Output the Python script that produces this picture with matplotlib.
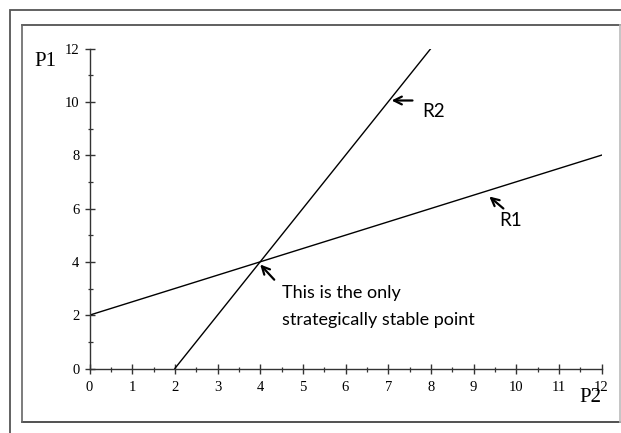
import matplotlib.pyplot as plt
from matplotlib.lines import Line2D
from matplotlib.patches import Rectangle
from matplotlib.ticker import MultipleLocator
import numpy as np

# reaction curves: P1 as a function of P2
r1_p2 = [0, 12]
r1_p1 = [2, 8]
r2_p2 = [2, 8]
r2_p1 = [0, 12]

x_ticks = np.arange(0, 13, 1)
y_ticks = np.arange(0, 13, 2)

fig = plt.figure(figsize=(6.21, 4.33), dpi=100)
W, H = 621, 433

# double frame around the figure
fig.patches.append(Rectangle((10 / W, -0.05), 1.1, 1 - 10 / H + 0.05,
                             transform=fig.transFigure, fill=False,
                             edgecolor='#555555', linewidth=1.3))


def frame_line(x0, y0, x1, y1, color):
    fig.lines.append(Line2D([x0 / W, x1 / W], [1 - y0 / H, 1 - y1 / H],
                            transform=fig.transFigure, color=color,
                            linewidth=1.2))


frame_line(22, 25, 620, 25, '#444444')
frame_line(22, 422, 620, 422, '#333333')
frame_line(22, 25, 22, 422, '#666666')
frame_line(620, 25, 620, 422, '#bbbbbb')

ax = fig.add_axes([89.5 / W, 1 - 368.5 / H, 512 / W, 320 / H])
ax.plot(r1_p2, r1_p1, color='black', linewidth=1.0)
ax.plot(r2_p2, r2_p1, color='black', linewidth=1.0)

ax.set_xlim(0, 12)
ax.set_ylim(0, 12)
ax.set_xticks(x_ticks)
ax.set_yticks(y_ticks)
ax.xaxis.set_minor_locator(MultipleLocator(0.5))
ax.yaxis.set_minor_locator(MultipleLocator(1))
for side in ['top', 'right']:
    ax.spines[side].set_visible(False)
for side in ['left', 'bottom']:
    ax.spines[side].set_color('#333333')
    ax.spines[side].set_linewidth(1.0)
ax.tick_params(which='major', direction='inout', length=6.5, width=1.0,
               color='#333333', labelsize=10.5, pad=4)
ax.tick_params(axis='x', which='major', pad=6)
ax.tick_params(which='minor', direction='inout', length=3.6, width=0.9,
               color='#333333')
for lab in ax.get_xticklabels() + ax.get_yticklabels():
    lab.set_family('Liberation Serif')
ax.patch.set_visible(False)

serif = 'Liberation Serif'
fig.text(45 / W, 1 - 61 / H, 'P1', family=serif, fontsize=15,
         ha='center', va='center')
fig.text(590 / W, 1 - 398 / H, 'P2', family=serif, fontsize=15,
         ha='center', va='center')

# annotations
arrow = dict(arrowstyle='->', color='black', linewidth=1.6,
             mutation_scale=14, shrinkA=0, shrinkB=0)
ax.annotate('', xy=(4.0, 3.9), xytext=(4.33, 3.33), arrowprops=arrow)
ax.annotate('', xy=(7.08, 10.05), xytext=(7.57, 10.05), arrowprops=arrow)
ax.annotate('', xy=(9.37, 6.45), xytext=(9.7, 6.0), arrowprops=arrow)

sans = 'Lato'
ax.text(4.5, 3.13, 'This is the only\nstrategically stable point', family=sans,
        fontsize=13, ha='left', va='top', linespacing=1.85)
ax.text(7.8, 9.65, 'R2', family=sans, fontsize=13.5, ha='left', va='center')
ax.text(9.6, 5.55, 'R1', family=sans, fontsize=13.5, ha='left', va='center')

fig.savefig('out.png', dpi=100)
